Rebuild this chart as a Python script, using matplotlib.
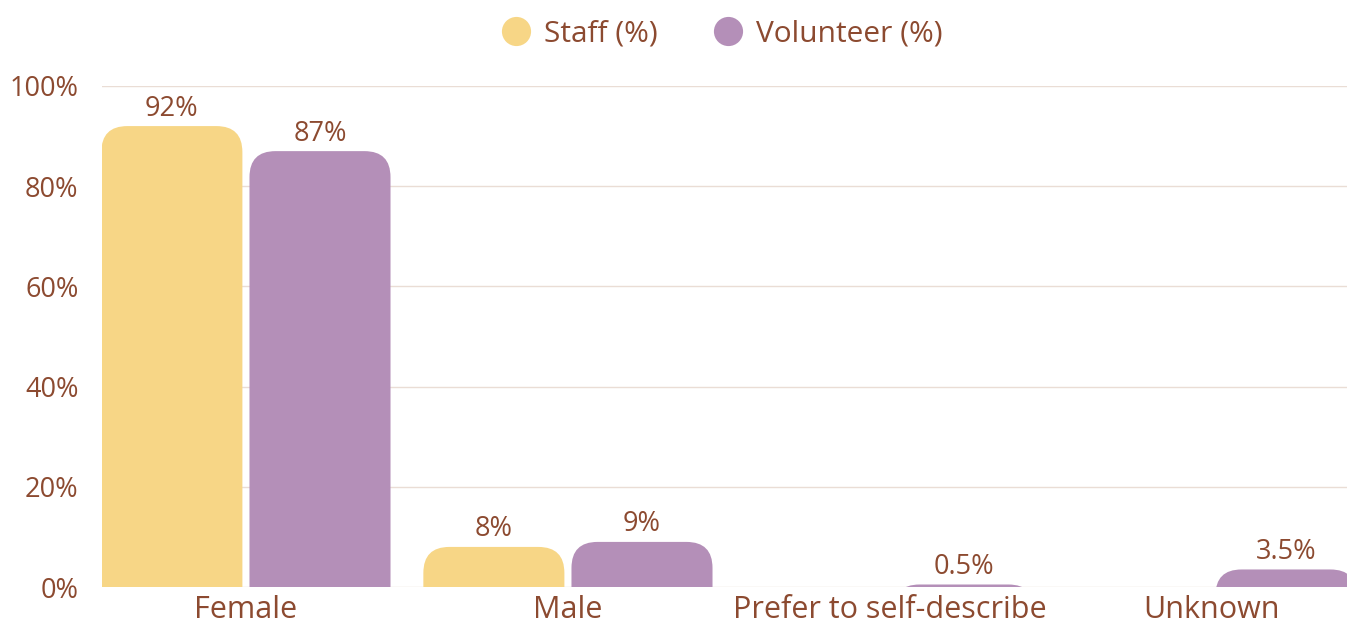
import matplotlib
matplotlib.use("Agg")
import matplotlib.pyplot as plt
from matplotlib.patches import FancyBboxPatch
from matplotlib.lines import Line2D
import numpy as np

# Gender split of staff and volunteers
categories = ["Female", "Male", "Prefer to self-describe", "Unknown"]
staff = [92, 8, 0, 0]
volunteer = [87, 9, 0.5, 3.5]
series_names = ["Staff (%)", "Volunteer (%)"]
yticks = [0, 20, 40, 60, 80, 100]

staff_color = "#F7D686"
vol_color = "#B48FB8"
text_color = "#8C4A30"
grid_color = "#EADDD5"

plt.rcParams["font.family"] = ["Open Sans", "DejaVu Sans"]

W, H, DPI = 13.47, 6.26, 100
fig = plt.figure(figsize=(W, H), dpi=DPI)
ax_pos = [102 / 1347, 1 - 587 / 626, 1 - 102 / 1347, (587 - 86) / 626]
ax = fig.add_axes(ax_pos)

xlim = (-0.447, -0.447 + ax_pos[2] * W * DPI / 322)
ax.set_xlim(*xlim)
ax.set_ylim(0, 100)

# pixels per data unit, used to keep corners circular
px_x = ax_pos[2] * W * DPI / (xlim[1] - xlim[0])
px_y = ax_pos[3] * H * DPI / 100
radius_px = 26  # quadratic corners look tighter than this
rx = radius_px / px_x
ry = radius_px / px_y

width = 0.438
offset = 0.23
x = np.arange(len(categories))


def rounded_bar(ax, xc, h, color):
    "Bar with rounded top corners, bottom hidden below the axis"
    if h <= 0:
        return
    base = -12
    patch = FancyBboxPatch((xc - width / 2, base), width, h - base,
                           boxstyle="round,pad=0,rounding_size=%f" % rx,
                           mutation_aspect=ry / rx, facecolor=color,
                           edgecolor="none", zorder=3, clip_on=True)
    ax.add_patch(patch)
    ax.annotate("%g%%" % h, (xc, h), xytext=(0, 2.5), textcoords="offset points",
                ha="center", va="bottom", fontsize=19.5, color=text_color)


for i in range(len(categories)):
    rounded_bar(ax, x[i] - offset, staff[i], staff_color)
    rounded_bar(ax, x[i] + offset, volunteer[i], vol_color)

ax.set_yticks(yticks)
ax.set_yticklabels(["%d%%" % t for t in yticks])
ax.set_xticks(x)
ax.set_xticklabels(categories)
ax.tick_params(axis="y", length=0, pad=17, labelsize=19.5, labelcolor=text_color)
ax.tick_params(axis="x", length=0, pad=6, labelsize=22, labelcolor=text_color)
ax.grid(axis="y", color=grid_color, linewidth=1, zorder=0)
ax.set_axisbelow(True)
for s in ax.spines.values():
    s.set_visible(False)

handles = [Line2D([], [], marker="o", linestyle="none", markersize=21,
                  markerfacecolor=c, markeredgecolor="none")
           for c in (staff_color, vol_color)]
leg = fig.legend(handles, series_names, loc="center", ncol=2,
                 bbox_to_anchor=(0.536, 1 - 34 / 626), frameon=False,
                 fontsize=21.5, handletextpad=0.45, columnspacing=1.85,
                 handlelength=1.0)
for t in leg.get_texts():
    t.set_color(text_color)

fig.savefig("out.png", dpi=DPI)
